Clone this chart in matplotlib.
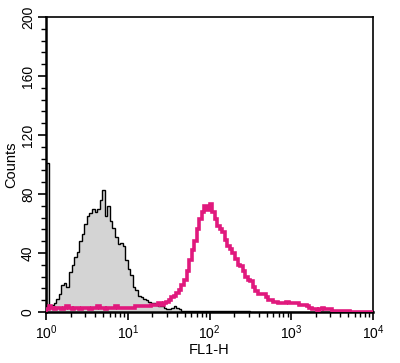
import numpy as np
import matplotlib
matplotlib.use("Agg")
import matplotlib.pyplot as plt
from matplotlib.ticker import MultipleLocator, FixedLocator, LogLocator, NullFormatter

plt.rcParams['font.family'] = ['Liberation Sans', 'DejaVu Sans']
plt.rcParams['mathtext.default'] = 'regular'

# 128 log-spaced channels over 4 decades (32 per decade)
bins_per_decade = 32
n_bins = 128

control_counts = [
    101, 3, 5, 6, 9, 12, 18, 20, 17, 27, 32, 37, 41, 48, 53, 60,
    65, 67, 70, 68, 70, 76, 83, 65, 72, 62, 57, 51, 46, 47, 45, 35,
    29, 25, 17, 15, 11, 10, 9, 8, 7, 6, 6, 5, 4, 4, 3, 2,
    2, 3, 4, 3, 2, 1, 1, 1, 1, 1, 1, 1, 1, 1, 1, 1,
    1, 1, 1, 1, 1, 1, 1, 1, 1, 1, 1, 1, 1, 1, 1, 1,
    0, 0, 0, 0, 0, 0, 0, 0, 0, 0, 0, 0, 0, 0, 0, 0,
    0, 0, 0, 0, 0, 0, 0, 0, 0, 0, 0, 0, 0, 0, 0, 0,
    0, 0, 0, 0, 0, 0, 0, 0, 0, 0, 0, 0, 0, 0, 0, 0,
]

stained_counts = [
    2, 4, 3, 2, 3, 3, 2, 3, 4, 3, 2, 3, 3, 2, 3, 3,
    3, 2, 3, 3, 4, 3, 3, 2, 3, 3, 3, 4, 3, 3, 3, 3,
    3, 3, 3, 4, 4, 4, 4, 4, 4, 5, 5, 5, 6, 5, 6, 7,
    8, 10, 11, 13, 15, 18, 22, 28, 35, 42, 48, 56, 63, 68,
    72, 69, 73, 68, 63, 58, 56, 54, 49, 45, 43, 40, 36, 32,
    31, 28, 24, 22, 21, 17, 14, 12, 12, 12, 10, 8, 8, 7, 7, 6,
    6, 6, 7, 6, 6, 6, 6, 5, 5, 5, 4, 3, 2, 2, 1, 2,
    3, 2, 2, 2, 1, 1, 1, 1, 1, 1, 1, 0, 0, 0, 0, 0,
    0, 0, 0, 0,
]

y_ticks = [0, 40, 80, 120, 160, 200]
x_ticks = [1, 10, 100, 1000, 10000]
x_tick_labels = ['$10^0$', '$10^1$', '$10^2$', '$10^3$', '$10^4$']

edges = 10 ** (np.arange(n_bins + 1) / bins_per_decade)

fig = plt.figure(figsize=(4.0, 3.63), dpi=100)
ax = fig.add_axes([0.115, 0.1405, 0.8175, 0.8125])

ax.stairs(control_counts, edges, fill=True, facecolor='#d4d4d4', edgecolor='none', zorder=1)
ax.stairs(control_counts, edges, color='black', linewidth=1.0, zorder=2)
ax.stairs(stained_counts, edges, color='#e0197d', linewidth=2.6, zorder=3)

ax.set_xscale('log')
ax.set_xlim(1, 10000)
ax.set_ylim(0, 200)

ax.xaxis.set_major_locator(FixedLocator(x_ticks))
ax.set_xticklabels(x_tick_labels, fontsize=10)
ax.xaxis.set_minor_locator(LogLocator(base=10, subs=np.arange(2, 10)))
ax.xaxis.set_minor_formatter(NullFormatter())

ax.yaxis.set_major_locator(FixedLocator(y_ticks))
ax.set_yticklabels([str(v) for v in y_ticks], fontsize=10, rotation=90, va='center')
ax.yaxis.set_minor_locator(MultipleLocator(8))

ax.tick_params(axis='both', which='major', direction='out', length=6, width=1.2, pad=2)
ax.tick_params(axis='both', which='minor', direction='out', length=3.5, width=1.0)
ax.tick_params(top=False, right=False)

for s in ax.spines.values():
    s.set_linewidth(1.2)
ax.spines['left'].set_linewidth(1.8)
ax.spines['bottom'].set_linewidth(1.8)

ax.set_xlabel('FL1-H', fontsize=10.5, labelpad=1)
ax.set_ylabel('Counts', fontsize=10.5, labelpad=2)

fig.savefig('out.png', dpi=100)
